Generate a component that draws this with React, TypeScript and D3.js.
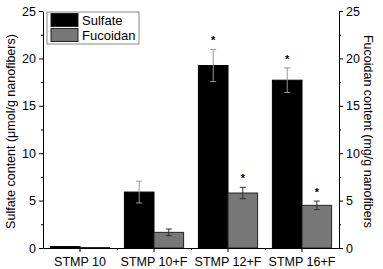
import React, { useRef, useEffect } from "react";
import * as d3 from "d3";

const categories = ["STMP 10", "STMP 10+F", "STMP 12+F", "STMP 16+F"];
const sulfate = [0.15, 5.9, 19.25, 17.7];
const sulfateErr = [0, 1.15, 1.7, 1.3];
const fucoidan = [0.05, 1.65, 5.8, 4.5];
const fucoidanErr = [0, 0.35, 0.6, 0.45];
const sulfateStar = [false, false, true, true];
const fucoidanStar = [false, false, true, true];
const yTicks = [0, 5, 10, 15, 20, 25];
const yMinorTicks = [2.5, 7.5, 12.5, 17.5, 22.5];

const App = () => {
  const svgRef = useRef<SVGSVGElement>(null);

  useEffect(() => {
    const W = 383;
    const H = 269;
    const left = 43;
    const right = 339;
    const top = 11;
    const bottom = 248;
    const font = "Liberation Sans, Arial, sans-serif";

    const svg = d3.select(svgRef.current).attr("width", W).attr("height", H);
    svg.selectAll("*").remove();

    const x = d3.scaleBand().domain(categories).range([left, right]).padding(0);
    const yL = d3.scaleLinear().domain([0, 25]).range([bottom, top]);
    const yR = d3.scaleLinear().domain([0, 25]).range([bottom, top]);
    const barW = x.bandwidth() * 0.4;
    const center = (c: string) => (x(c) as number) + x.bandwidth() / 2;

    // bars
    const g = svg.append("g");
    categories.forEach((c, i) => {
      const cx = center(c);
      // sulfate
      g.append("rect")
        .attr("x", cx - barW)
        .attr("y", yL(sulfate[i]))
        .attr("width", barW)
        .attr("height", bottom - yL(sulfate[i]))
        .attr("fill", "#000")
        .attr("stroke", "#000")
        .attr("stroke-width", 1);
      // fucoidan
      g.append("rect")
        .attr("x", cx)
        .attr("y", yR(fucoidan[i]))
        .attr("width", barW)
        .attr("height", bottom - yR(fucoidan[i]))
        .attr("fill", "#777")
        .attr("stroke", "#222")
        .attr("stroke-width", 1);

      const errs = [
        { v: sulfate[i], e: sulfateErr[i], bx: cx - barW / 2, col: "#999", s: yL, star: sulfateStar[i] },
        { v: fucoidan[i], e: fucoidanErr[i], bx: cx + barW / 2, col: "#333", s: yR, star: fucoidanStar[i] },
      ];
      errs.forEach((d) => {
        if (d.e > 0) {
          const y1 = d.s(d.v + d.e);
          const y0 = d.s(d.v - d.e);
          g.append("line").attr("x1", d.bx).attr("x2", d.bx).attr("y1", y1).attr("y2", y0)
            .attr("stroke", d.col).attr("stroke-width", 1);
          [y1, y0].forEach((yy) =>
            g.append("line").attr("x1", d.bx - 3).attr("x2", d.bx + 3).attr("y1", yy).attr("y2", yy)
              .attr("stroke", d.col).attr("stroke-width", 1)
          );
        }
        if (d.star) {
          g.append("text")
            .attr("x", d.bx)
            .attr("y", d.s(d.v + d.e) - 5)
            .attr("text-anchor", "middle")
            .attr("font-family", font)
            .attr("font-size", 11)
            .attr("font-weight", "bold")
            .text("*");
        }
      });
    });

    // left axis
    const axL = svg.append("g").attr("transform", `translate(${left},0)`)
      .call(d3.axisLeft(yL).tickValues(yTicks).tickSize(4).tickSizeOuter(0));
    axL.selectAll("text").attr("font-family", font).attr("font-size", 12.5).attr("fill", "#000");
    svg.append("g").attr("transform", `translate(${left},0)`)
      .call(d3.axisLeft(yL).tickValues(yMinorTicks).tickSize(2).tickFormat(() => ""))
      .select(".domain").remove();

    // right axis
    const axR = svg.append("g").attr("transform", `translate(${right},0)`)
      .call(d3.axisRight(yR).tickValues(yTicks).tickSize(4).tickSizeOuter(0));
    axR.selectAll("text").attr("font-family", font).attr("font-size", 12.5).attr("fill", "#000");
    svg.append("g").attr("transform", `translate(${right},0)`)
      .call(d3.axisRight(yR).tickValues(yMinorTicks).tickSize(2).tickFormat(() => ""))
      .select(".domain").remove();

    // bottom axis
    const axB = svg.append("g").attr("transform", `translate(0,${bottom})`)
      .call(d3.axisBottom(x).tickSize(4).tickSizeOuter(0).tickPadding(5));
    axB.selectAll("text").attr("font-family", font).attr("font-size", 12.5).attr("fill", "#000");
    svg.append("g").attr("transform", `translate(0,${bottom})`)
      .call(
        d3.axisBottom(d3.scaleLinear().domain([0, 4]).range([left, right]))
          .tickValues([1, 2, 3]).tickSize(2).tickFormat(() => "")
      )
      .select(".domain").remove();

    // axis titles
    svg.append("text")
      .attr("transform", `translate(15,${(top + bottom) / 2 + 2}) rotate(-90)`)
      .attr("text-anchor", "middle")
      .attr("font-family", font)
      .attr("font-size", 12.5)
      .text("Sulfate content (\u03bcmol/g nanofibers)");
    svg.append("text")
      .attr("transform", `translate(364,${(top + bottom) / 2 + 2}) rotate(90)`)
      .attr("text-anchor", "middle")
      .attr("font-family", font)
      .attr("font-size", 12.5)
      .text("Fucoidan content (mg/g nanofibers");

    // legend
    const lg = svg.append("g");
    lg.append("rect").attr("x", 47).attr("y", 12).attr("width", 92).attr("height", 32)
      .attr("fill", "#fff").attr("stroke", "#888").attr("stroke-width", 1);
    const items = [
      { label: "Sulfate", fill: "#000" },
      { label: "Fucoidan", fill: "#777" },
    ];
    items.forEach((it, i) => {
      const yy = 13.5 + i * 15;
      lg.append("rect").attr("x", 51).attr("y", yy).attr("width", 27).attr("height", 13)
        .attr("fill", it.fill).attr("stroke", "#222").attr("stroke-width", 1);
      lg.append("text").attr("x", 82).attr("y", yy + 11).attr("font-family", font)
        .attr("font-size", 13).text(it.label);
    });
  }, []);

  return <svg ref={svgRef} style={{ position: "absolute", left: 0, top: 0 }}></svg>;
};

export default App;
